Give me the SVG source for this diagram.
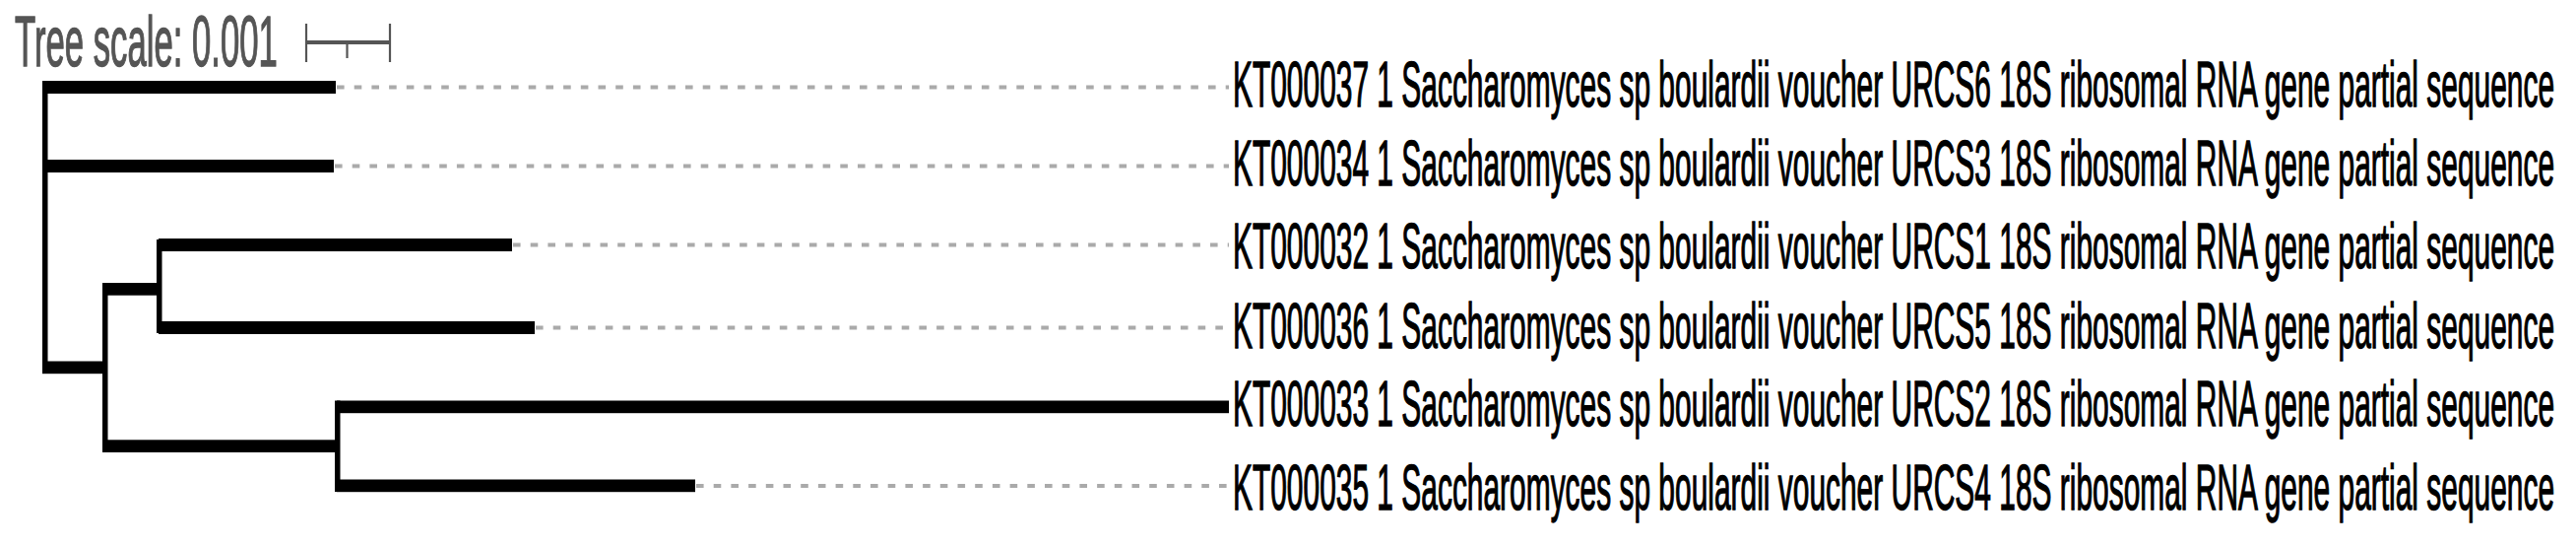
<svg xmlns="http://www.w3.org/2000/svg" width="2616" height="554" viewBox="0 0 2616 554">
<style>
.bg{fill:#ffffff}
.br{fill:#000000}
.guide{stroke:#aaaaaa;stroke-width:4.2;stroke-dasharray:7.6 10.1;fill:none}
.lbl{font-family:"Liberation Sans",Arial,sans-serif;font-size:65px;fill:#000000;stroke:#000000;stroke-width:1.4}
.scl{font-family:"Liberation Sans",Arial,sans-serif;font-size:72px;fill:#555555;stroke:#555555;stroke-width:1.4}
.bar{stroke:#555555;fill:none}
</style>
<rect class="bg" x="0" y="0" width="2616" height="554"/>
<g id="tree-scale">
<text class="scl" transform="translate(15,67) scale(0.46,1)" x="0" y="0" textLength="580" lengthAdjust="spacingAndGlyphs">Tree scale: 0.001</text>
<line class="bar" x1="311" y1="43" x2="396" y2="43" stroke-width="4"/>
<line class="bar" x1="311" y1="24" x2="311" y2="63" stroke-width="2.2"/>
<line class="bar" x1="396" y1="24" x2="396" y2="63" stroke-width="2.2"/>
<line class="bar" x1="352.5" y1="43" x2="352.5" y2="59" stroke-width="2.2"/>
</g>
<g id="connectors">
<rect class="br" x="43" y="82" width="5.5" height="297"/>
<rect class="br" x="43" y="82" width="298" height="13"/>
<rect class="br" x="43" y="162" width="296" height="13"/>
<rect class="br" x="43" y="366.5" width="66" height="12.7"/>
<rect class="br" x="104" y="287" width="5.5" height="172"/>
<rect class="br" x="104" y="287" width="60" height="12.7"/>
<rect class="br" x="104" y="446.3" width="241" height="12.7"/>
<rect class="br" x="159" y="243" width="5.5" height="95"/>
<rect class="br" x="161" y="242" width="359" height="13"/>
<rect class="br" x="161" y="326" width="382" height="13"/>
<rect class="br" x="340" y="406.5" width="5.5" height="92.5"/>
<rect class="br" x="342" y="406.5" width="906" height="12.7"/>
<rect class="br" x="342" y="486.5" width="364" height="12.7"/>
<line class="guide" x1="342" y1="88.5" x2="1248" y2="88.5"/>
<line class="guide" x1="340" y1="168.5" x2="1248" y2="168.5"/>
<line class="guide" x1="521" y1="248.5" x2="1248" y2="248.5"/>
<line class="guide" x1="544" y1="332.5" x2="1248" y2="332.5"/>
<line class="guide" x1="707" y1="493" x2="1248" y2="493"/>
</g>
<g id="leaf-KT000037"><text class="lbl" transform="translate(1252,108) scale(0.4615,1)" x="0" y="0" textLength="2908" lengthAdjust="spacingAndGlyphs">KT000037 1 Saccharomyces sp boulardii voucher URCS6 18S ribosomal RNA gene partial sequence</text></g>
<g id="leaf-KT000034"><text class="lbl" transform="translate(1252,188) scale(0.4615,1)" x="0" y="0" textLength="2908" lengthAdjust="spacingAndGlyphs">KT000034 1 Saccharomyces sp boulardii voucher URCS3 18S ribosomal RNA gene partial sequence</text></g>
<g id="leaf-KT000032"><text class="lbl" transform="translate(1252,271.5) scale(0.4615,1)" x="0" y="0" textLength="2908" lengthAdjust="spacingAndGlyphs">KT000032 1 Saccharomyces sp boulardii voucher URCS1 18S ribosomal RNA gene partial sequence</text></g>
<g id="leaf-KT000036"><text class="lbl" transform="translate(1252,352.5) scale(0.4615,1)" x="0" y="0" textLength="2908" lengthAdjust="spacingAndGlyphs">KT000036 1 Saccharomyces sp boulardii voucher URCS5 18S ribosomal RNA gene partial sequence</text></g>
<g id="leaf-KT000033"><text class="lbl" transform="translate(1252,432) scale(0.4615,1)" x="0" y="0" textLength="2908" lengthAdjust="spacingAndGlyphs">KT000033 1 Saccharomyces sp boulardii voucher URCS2 18S ribosomal RNA gene partial sequence</text></g>
<g id="leaf-KT000035"><text class="lbl" transform="translate(1252,516.5) scale(0.4615,1)" x="0" y="0" textLength="2908" lengthAdjust="spacingAndGlyphs">KT000035 1 Saccharomyces sp boulardii voucher URCS4 18S ribosomal RNA gene partial sequence</text></g>
</svg>
